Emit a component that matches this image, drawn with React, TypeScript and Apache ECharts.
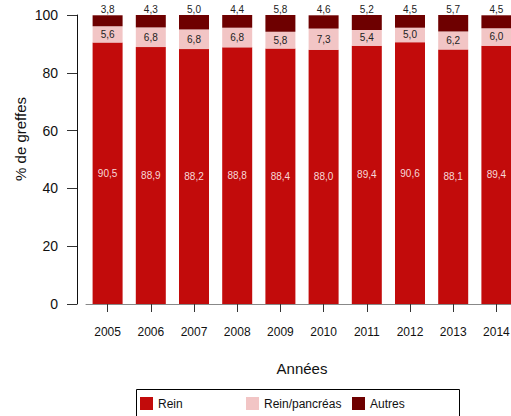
import React, { useEffect, useRef } from "react";
import * as echarts from "echarts";

const years = ["2005", "2006", "2007", "2008", "2009", "2010", "2011", "2012", "2013", "2014"];
const rein = [90.5, 88.9, 88.2, 88.8, 88.4, 88.0, 89.4, 90.6, 88.1, 89.4];
const reinPancreas = [5.6, 6.8, 6.8, 6.8, 5.8, 7.3, 5.4, 5.0, 6.2, 6.0];
const autres = [3.8, 4.3, 5.0, 4.4, 5.8, 4.6, 5.2, 4.5, 5.7, 4.5];
const seriesNames = ["Rein", "Rein/pancréas", "Autres"];
const yTicks = [0, 20, 40, 60, 80, 100];

const FONT = "'Liberation Sans', Arial, Helvetica, sans-serif";
const fmt = (p: any) => Number(p.value).toFixed(1).replace(".", ",");

export default function App() {
  const ref = useRef<HTMLDivElement>(null);
  useEffect(() => {
    document.body.style.margin = "0";
    const chart = echarts.init(ref.current!, null, { renderer: "svg" });
    const legendLefts = [140, 246, 352];
    chart.setOption({
      animation: false,
      textStyle: { fontFamily: FONT },
      grid: {
        left: 86,
        width: 432,
        top: 15,
        height: 289,
        containLabel: false,
        outerBoundsMode: "none",
      },
      graphic: [
        {
          type: "text",
          x: 20,
          y: 139,
          rotation: Math.PI / 2,
          style: {
            text: "% de greffes",
            font: `15px ${FONT}`,
            fill: "#111",
            textAlign: "center",
            textVerticalAlign: "middle",
          },
        },
        {
          type: "rect",
          shape: { x: 136.5, y: 389.5, width: 323, height: 40 },
          style: { fill: "none", stroke: "#000", lineWidth: 1 },
        },
      ],
      legend: seriesNames.map((n, i) => ({
        left: legendLefts[i],
        top: 397,
        padding: 0,
        itemGap: 0,
        itemWidth: 13,
        itemHeight: 13,
        icon: "rect",
        textStyle: { fontSize: 12, color: "#111", fontFamily: FONT },
        data: [n],
      })),
      xAxis: {
        type: "category",
        data: years,
        name: "Années",
        nameLocation: "middle",
        nameGap: 57,
        nameTextStyle: { fontSize: 15, color: "#111", fontFamily: FONT },
        axisLine: { show: true, lineStyle: { color: "#888", width: 1 } },
        axisTick: { show: true, alignWithLabel: true, length: 8, lineStyle: { color: "#333" } },
        axisLabel: { fontSize: 12, color: "#111", margin: 22, fontFamily: FONT },
      },
      yAxis: {
        type: "value",
        min: 0,
        max: 100,
        interval: 20,
        offset: 9,
        splitLine: { show: false },
        axisLine: { show: true, lineStyle: { color: "#111" } },
        axisTick: { show: true, length: 10, lineStyle: { color: "#333" } },
        axisLabel: {
          fontSize: 14,
          color: "#111",
          margin: 19,
          fontFamily: FONT,
          formatter: (v: number) => (yTicks.includes(v) ? String(v) : ""),
        },
      },
      series: [
        {
          name: seriesNames[0],
          type: "bar",
          stack: "total",
          barWidth: 30,
          data: rein,
          itemStyle: { color: "#C20B0B" },
          label: { show: true, position: "inside", color: "#F7D8D8", fontSize: 10, formatter: fmt },
        },
        {
          name: seriesNames[1],
          type: "bar",
          stack: "total",
          barWidth: 30,
          data: reinPancreas,
          itemStyle: { color: "#F2C5C5" },
          label: { show: true, position: "inside", color: "#222", fontSize: 10, formatter: fmt },
        },
        {
          name: seriesNames[2],
          type: "bar",
          stack: "total",
          barWidth: 30,
          data: autres,
          itemStyle: { color: "#6E0000" },
          label: { show: true, position: "top", distance: 1, color: "#222", fontSize: 10, formatter: fmt },
        },
      ],
    });
    return () => chart.dispose();
  }, []);
  return <div ref={ref} style={{ position: "absolute", left: 0, top: 0, width: 511, height: 416 }} />;
}
